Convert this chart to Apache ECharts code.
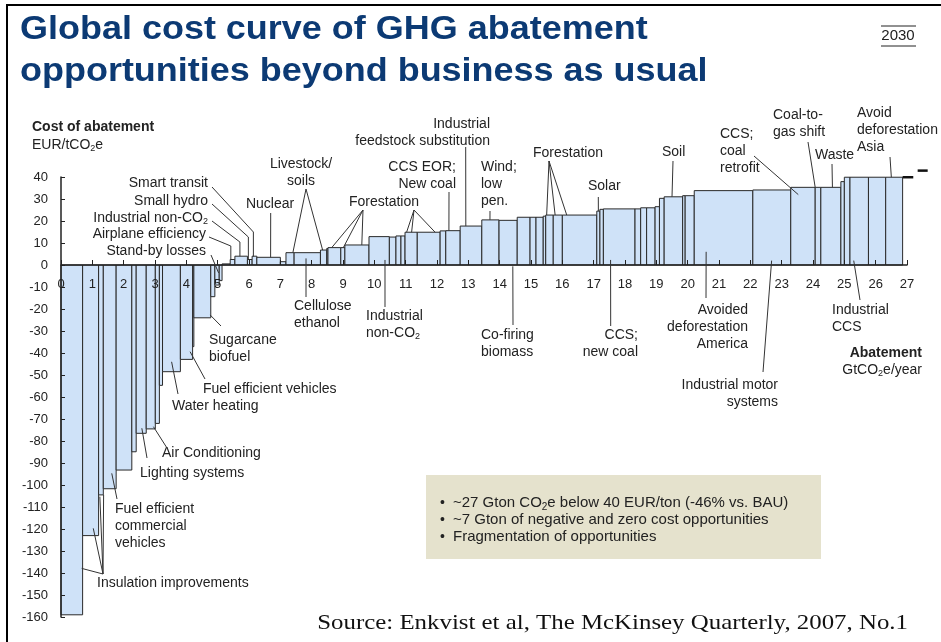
<!DOCTYPE html>
<html>
<head>
<meta charset="utf-8">
<script src="https://cdn.jsdelivr.net/npm/echarts@6/dist/echarts.min.js"></script>
<style>
  html, body { margin: 0; padding: 0; background: #fff; }
  #main { width: 941px; height: 642px; }
</style>
</head>
<body>
<div id="main"></div>
<script>
// abatement potential of each lever, GtCO2e/year, in curve order
const widths = [0.69, 0.51, 0.15, 0.41, 0.50, 0.14, 0.32, 0.29, 0.13, 0.10,
  0.57, 0.39, 0.04, 0.54, 0.13, 0.14, 0.09, 0.26, 0.15, 0.40,
  0.15, 0.15, 0.75, 0.18, 0.26, 0.84, 0.20, 0.04, 0.41, 0.13,
  0.77, 0.65, 0.21, 0.16, 0.13, 0.39, 0.73, 0.18, 0.46, 0.69,
  0.55, 0.58, 0.41, 0.19, 0.23, 0.08, 0.24, 0.29, 1.10, 0.10,
  0.11, 1.01, 0.18, 0.19, 0.27, 0.14, 0.15, 0.59, 0.08, 0.29,
  1.87, 1.21, 0.78, 0.18, 0.64, 0.11, 0.18, 0.59, 0.55, 0.54];
// cost of abatement, EUR/tCO2e
const costs = [-159, -123, -104.5, -101.7, -93.2, -84.9, -76.5, -74.5, -72, -54.7,
  -48.5, -42.9, -37.1, -24, -14.4, -9.1, -7.1, 0.5, 2.5, 4,
  2.5, 4, 3.5, 1.5, 5.6, 5.6, 6.8, 7.5, 7.9, 7.9,
  9.1, 12.9, 12.7, 13.2, 13.2, 14.9, 14.9, 15.5, 15.6, 17.7,
  20.5, 20.3, 21.7, 21.7, 21.7, 22.2, 22.7, 22.7, 22.7, 24.5,
  25.3, 25.5, 25.5, 26, 26, 26.5, 30.3, 31, 31.5, 31.5,
  33.8, 34.1, 35.3, 35.3, 35.3, 37.9, 39.9, 39.9, 39.9, 39.9];
// the two little dashes past the end of the curve
const tailStarts = [26.86, 27.34];
const tailEnds = [27.2, 27.66];
const tailCosts = [39.9, 42.9];

const bullets = [
  '~27 Gton CO{s|2}e below 40 EUR/ton (-46% vs. BAU)',
  '~7 Gton of negative and zero cost opportunities',
  'Fragmentation of opportunities'
];

// labels: text position in px, leader start in px, targets in data units
const notes = [
  { text: 'Smart transit', x: 208, y: 183, align: 'right', from: [212, 187], bend: 232, to: [[6.14, 3.8]] },
  { text: 'Small hydro', x: 208, y: 201, align: 'right', from: [212, 204], bend: 237, to: [[5.98, 2.5]] },
  { text: 'Industrial non-CO{s|2}', x: 208, y: 218, align: 'right', from: [212, 221], bend: 242, to: [[5.71, 4]] },
  { text: 'Airplane efficiency', x: 206, y: 234, align: 'right', from: [209, 237], bend: 246, to: [[5.42, 2.5]] },
  { text: 'Stand-by losses', x: 206, y: 251, align: 'right', from: [211, 255], to: [[5.03, -3.6]] },
  { text: 'Nuclear', x: 270, y: 204, align: 'center', from: [270.7, 213], to: [[6.69, 3.5]] },
  { text: 'Livestock/\nsoils', x: 301, y: 164, align: 'center', from: [306, 189], to: [[7.4, 5.6], [8.35, 6.8]] },
  { text: 'Cellulose\nethanol', x: 294, y: 306, from: [306, 297], to: [[7.82, 3]] },
  { text: 'Forestation', x: 349, y: 202, from: [363, 210], to: [[8.64, 7.9], [9.01, 7.9], [9.6, 9.1]] },
  { text: '', x: 0, y: 0, from: [414, 210], to: [[11.03, 14.9], [11.19, 14.9], [11.94, 14.9]] },
  { text: 'Industrial\nnon-CO{s|2}', x: 366, y: 316, from: [385, 307], to: [[10.34, 2.3]] },
  { text: 'CCS EOR;\nNew coal', x: 456, y: 167, align: 'right', from: [449, 192], to: [[12.38, 15.6]] },
  { text: 'Industrial\nfeedstock substitution', x: 490, y: 124, align: 'right', from: [465.7, 147], to: [[12.92, 17.7]] },
  { text: 'Wind;\nlow\npen.', x: 481, y: 167, from: [490, 211], to: [[13.69, 20.5]] },
  { text: 'Co-firing\nbiomass', x: 481, y: 335, from: [513, 325], to: [[14.42, -0.6]] },
  { text: 'Forestation', x: 533, y: 153, from: [549, 161], to: [[15.5, 22.7], [15.77, 22.7], [16.14, 22.7]] },
  { text: 'Solar', x: 588, y: 186, from: [598.3, 197], to: [[17.15, 24.5]] },
  { text: 'CCS;\nnew coal', x: 638, y: 335, align: 'right', from: [610.7, 326], to: [[17.54, 2.3]] },
  { text: 'Soil', x: 662, y: 152, from: [673, 161], to: [[19.5, 31]] },
  { text: 'Avoided\ndeforestation\nAmerica', x: 748, y: 310, align: 'right', from: [706, 298], to: [[20.59, 6]] },
  { text: 'Industrial motor\nsystems', x: 778, y: 385, align: 'right', from: [763, 372], to: [[22.68, 2]] },
  { text: 'CCS;\ncoal\nretrofit', x: 720, y: 134, from: [754, 156], to: [[23.53, 32]] },
  { text: 'Coal-to-\ngas shift', x: 773, y: 115, from: [808, 142], to: [[24.07, 35.3]] },
  { text: 'Waste', x: 815, y: 155, from: [832, 164], to: [[24.62, 35.3]] },
  { text: 'Avoid\ndeforestation\nAsia', x: 857, y: 113, from: [890, 157], to: [[26.5, 39.9]] },
  { text: 'Industrial\nCCS', x: 832, y: 310, from: [860, 300], to: [[25.3, 2]] },
  { text: 'Sugarcane\nbiofuel', x: 209, y: 340, from: [221, 326], to: [[4.76, -22.7]] },
  { text: 'Fuel efficient vehicles', x: 203, y: 389, from: [205, 379], to: [[4.12, -39.4]] },
  { text: 'Water heating', x: 172, y: 406, from: [178, 394], to: [[3.53, -44]] },
  { text: 'Air Conditioning', x: 162, y: 453, from: [167, 448], to: [[2.95, -73.5]] },
  { text: 'Lighting systems', x: 140, y: 473, from: [147, 458], to: [[2.58, -74.2]] },
  { text: 'Fuel efficient\ncommercial\nvehicles', x: 115, y: 509, from: [117, 499], to: [[1.62, -94.7]] },
  { text: 'Insulation improvements', x: 97, y: 583, from: [103, 574], to: [[0.66, -137.9], [1.03, -119.7], [1.24, -105.3], [1.36, -104.5]] }
];

const FONT = '"Liberation Sans", Arial, Helvetica, sans-serif';
const INK = '#222';

// build the rectangles from the widths
let acc = 0;
const bars = widths.map(function (w, i) {
  const d = [acc, acc + w, costs[i]];
  acc += w;
  return d;
});
const tail = tailStarts.map(function (s, i) { return [s, tailEnds[i], tailCosts[i]]; });

function renderBar(params, api) {
  const p0 = api.coord([api.value(0), 0]);
  const p1 = api.coord([api.value(1), api.value(2)]);
  return {
    type: 'rect',
    shape: { x: p0[0], y: Math.min(p0[1], p1[1]), width: p1[0] - p0[0], height: Math.abs(p1[1] - p0[1]) },
    style: { fill: '#cfe2f8', stroke: '#2a2a2a', lineWidth: 1 }
  };
}

function renderDash(params, api) {
  const p0 = api.coord([api.value(0), api.value(2)]);
  const p1 = api.coord([api.value(1), api.value(2)]);
  return {
    type: 'line',
    shape: { x1: p0[0], y1: p0[1], x2: p1[0], y2: p1[1] },
    style: { stroke: '#111', lineWidth: 2.5 }
  };
}

const chart = echarts.init(document.getElementById('main'));

chart.setOption({
  animation: false,
  grid: { left: 61, right: 34, top: 177, bottom: 25 },
  xAxis: {
    // sits on the zero line: 352px up from the bottom of the grid
    type: 'value', min: 0, max: 27, interval: 1, z: 10, offset: -352,
    axisLine: { onZero: false, lineStyle: { color: INK, width: 1.5 } },
    axisTick: { inside: true, length: 5, lineStyle: { color: INK } },
    axisLabel: { margin: 13, fontSize: 13, color: INK, fontFamily: FONT },
    splitLine: { show: false }
  },
  yAxis: {
    type: 'value', min: -160, max: 40, interval: 10, z: 10,
    axisLine: { show: true, onZero: false, lineStyle: { color: INK, width: 1.5 } },
    axisTick: { show: true, inside: true, length: 4, lineStyle: { color: INK } },
    axisLabel: { margin: 13, fontSize: 13, color: INK, fontFamily: FONT },
    splitLine: { show: false }
  },
  series: [
    { type: 'custom', renderItem: renderBar, data: bars, encode: { x: [0, 1], y: 2 }, z: 2 },
    { type: 'custom', renderItem: renderDash, data: tail, encode: { x: [0, 1], y: 2 }, z: 3, clip: false }
  ]
});

function label(text, x, y, opts) {
  opts = opts || {};
  const size = opts.size || 14;
  return {
    type: 'text', x: x, y: y, z: 100, scaleX: opts.sx || 1,
    style: {
      text: text,
      fontFamily: opts.family || FONT,
      fontSize: size,
      fontWeight: opts.weight || 'normal',
      fill: opts.color || INK,
      align: opts.align || 'left',
      textAlign: opts.align || 'left',
      verticalAlign: 'middle',
      textVerticalAlign: 'middle',
      lineHeight: opts.lh || 17,
      rich: { s: { fontSize: Math.round(size * 0.66), fontFamily: FONT, fill: INK, padding: [Math.round(size * 0.55), 0, 0, 0] } }
    }
  };
}

const g = [];

// frame round the slide
g.push({ type: 'polyline', z: 100, shape: { points: [[7, 642], [7, 5], [941, 5]] }, style: { stroke: '#000', lineWidth: 2, fill: null } });

g.push(label('Global cost curve of GHG abatement', 20, 30, { size: 33, weight: 'bold', color: '#0c3a74', sx: 1.09 }));
g.push(label('opportunities beyond business as usual', 20, 72, { size: 33, weight: 'bold', color: '#0c3a74', sx: 1.09 }));
g.push(label('2030', 898, 36, { size: 15, align: 'center' }));
g.push({ type: 'line', z: 100, shape: { x1: 881, y1: 26, x2: 916, y2: 26 }, style: { stroke: INK, lineWidth: 1 } });
g.push({ type: 'line', z: 100, shape: { x1: 881, y1: 46, x2: 916, y2: 46 }, style: { stroke: INK, lineWidth: 1 } });

g.push(label('Cost of abatement', 32, 127, { weight: 'bold' }));
g.push(label('EUR/tCO{s|2}e', 32, 145));
g.push(label('Abatement', 922, 353, { weight: 'bold', align: 'right' }));
g.push(label('GtCO{s|2}e/year', 922, 370, { align: 'right' }));

notes.forEach(function (n) {
  // multi-line text: y is the centre of the first line
  const lines = n.text ? n.text.split('\n').length : 0;
  if (n.text) g.push(label(n.text, n.x, n.y + (lines - 1) * 8.5, { align: n.align }));
  n.to.forEach(function (t) {
    const p = chart.convertToPixel({ gridIndex: 0 }, t);
    const pts = [n.from];
    if (n.bend) pts.push([p[0], n.bend]);
    pts.push(p);
    g.push({ type: 'polyline', z: 100, shape: { points: pts }, style: { stroke: '#333', lineWidth: 1, fill: null } });
  });
});

// summary box
g.push({ type: 'rect', z: 90, shape: { x: 426, y: 475, width: 395, height: 84 }, style: { fill: '#e5e2cd' } });
bullets.forEach(function (b, i) {
  g.push(label('\u2022', 440, 503 + i * 17, { size: 14 }));
  g.push(label(b, 453, 503 + i * 17, { size: 15 }));
});

g.push(label('Source: Enkvist et al, The McKinsey Quarterly, 2007, No.1', 908, 623,
  { family: '"Liberation Serif", "Times New Roman", serif', size: 22, align: 'right', color: '#111', sx: 1.13 }));

chart.setOption({ graphic: g });
</script>
</body>
</html>
